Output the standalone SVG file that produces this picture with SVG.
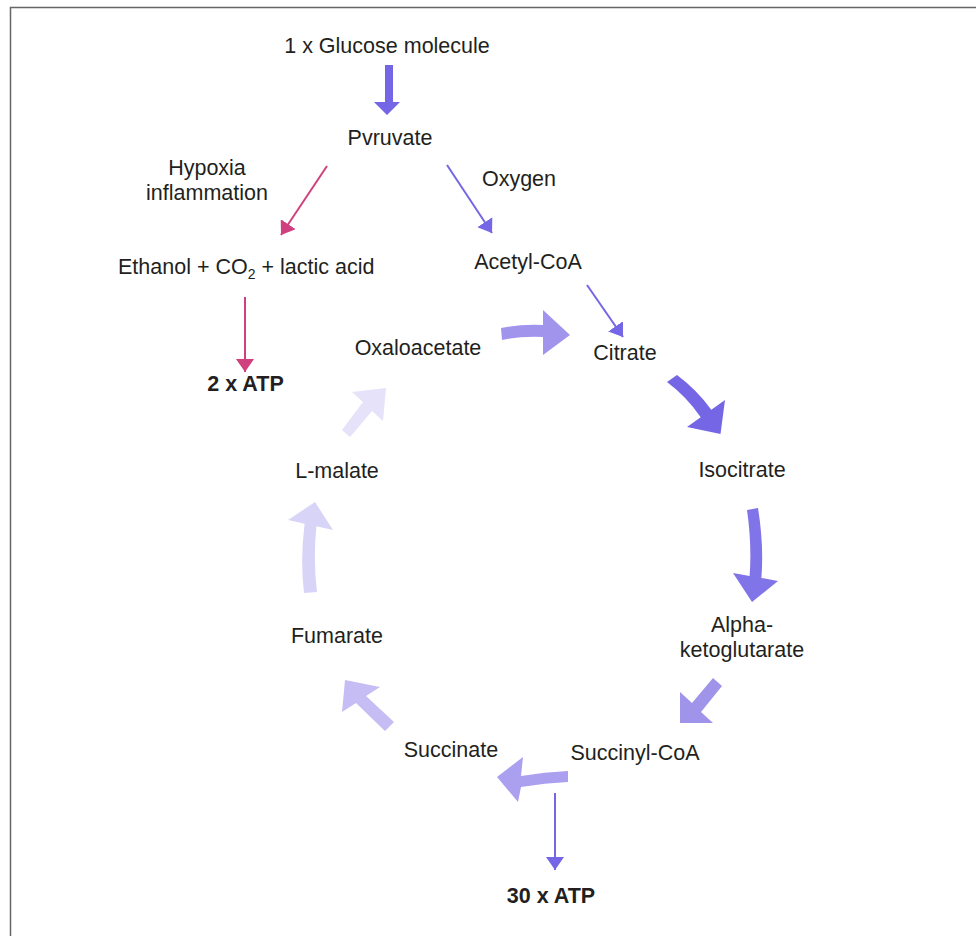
<svg xmlns="http://www.w3.org/2000/svg" width="976" height="936" viewBox="0 0 976 936">
<defs>
<style>
.t{font-family:"Liberation Sans",Arial,sans-serif;font-size:21.5px;fill:#231f20;text-anchor:middle}
.b{font-weight:bold}
.thin{fill:none;stroke-width:2}
</style>
<marker id="hb" viewBox="0 0 13 18" refX="13" refY="9" markerWidth="13" markerHeight="18" markerUnits="userSpaceOnUse" orient="auto"><path d="M0,0 L13,9 L0,18 Z" fill="#7466e4"/></marker>
<marker id="hp" viewBox="0 0 13 18" refX="13" refY="9" markerWidth="13" markerHeight="18" markerUnits="userSpaceOnUse" orient="auto"><path d="M0,0 L13,9 L0,18 Z" fill="#d0407f"/></marker>
</defs>
<rect width="976" height="936" fill="#fff"/>
<path d="M10.5,936 V7.5 H976" fill="none" stroke="#666" stroke-width="1.5"/>

<g id="connectors">
<path id="glucose-pyruvate" d="M385,65 H393 V102 H400 L387,115 L374,102 H385 Z" fill="#7466e4"/>
<line x1="327" y1="166" x2="281" y2="235" class="thin" stroke="#d0407f" marker-end="url(#hp)"/>
<line x1="245" y1="297" x2="245" y2="372" class="thin" stroke="#d0407f" marker-end="url(#hp)"/>
<line x1="447" y1="165" x2="492" y2="233" class="thin" stroke="#7466e4" marker-end="url(#hb)"/>
<line x1="587" y1="285" x2="623" y2="337" class="thin" stroke="#7466e4" marker-end="url(#hb)"/>
<line x1="555" y1="793" x2="555" y2="870" class="thin" stroke="#7466e4" marker-end="url(#hb)"/>
<path id="oxalo-citrate" d="M501,328 Q520,324 543,325 L543,310 L570,335 L543,355 L543,337 Q520,336 502,340 Z" fill="#a194ec"/>
<path id="citrate-isocitrate" d="M667,382 L677,375 Q697,390 711.3,409.7 L725,400 L720.5,434 L687,427 L700.7,417.3 Q687,397 667,382 Z" fill="#7466e4"/>
<path id="isocitrate-alpha" d="M747,510 L758,508 Q764,545 761.4,578 L778,581 L752,602 L733,573 L749.6,576 Q752,545 747,510 Z" fill="#8174e8"/>
<path id="alpha-succinyl" d="M713,678 L722,686 L701,712 L713,723 L680,723 L680,692 L692,703 Z" fill="#a093ea"/>
<path id="succinyl-succinate" d="M568,771 L568,782 Q545,783 521,787 L518,802 L497,777 L523,757 L521,776 Q545,772 568,771 Z" fill="#ab9ff0"/>
<path id="succinate-fumarate" d="M385,731 L394,722 L366,696 L380,687 L345,680 L342,712 L356,703 Z" fill="#c5bdf4"/>
<path id="fumarate-malate" d="M304,593 L317,592 Q313,560 316.4,526.3 L333,530 L315,502 L288,520 L304.6,523.7 Q300,560 304,593 Z" fill="#d8d4f7"/>
<path id="malate-oxalo" d="M342,430 L363,402 L352,392 L386,388 L383,421 L372,411 L350,437 Z" fill="#e5e2fa"/>
</g>

<g id="glucose"><text class="t" x="387" y="53">1 x Glucose molecule</text></g>
<g id="pyruvate"><text class="t" x="390" y="145">Pvruvate</text></g>
<g id="hypoxia"><text class="t" x="207" y="175">Hypoxia</text><text class="t" x="207" y="200">inflammation</text></g>
<g id="oxygen"><text class="t" x="519" y="186">Oxygen</text></g>
<g id="ethanol"><text class="t" x="118" y="274" style="text-anchor:start">Ethanol + CO<tspan font-size="14" dy="5">2</tspan><tspan dy="-5"> + lactic acid</tspan></text></g>
<g id="acetyl"><text class="t" x="528" y="269">Acetyl-CoA</text></g>
<g id="atp2"><text class="t b" x="245.5" y="391">2 x ATP</text></g>
<g id="oxaloacetate"><text class="t" x="418" y="355">Oxaloacetate</text></g>
<g id="citrate"><text class="t" x="625" y="360">Citrate</text></g>
<g id="isocitrate"><text class="t" x="742" y="477">Isocitrate</text></g>
<g id="lmalate"><text class="t" x="337" y="478">L-malate</text></g>
<g id="alpha"><text class="t" x="742" y="632">Alpha-</text><text class="t" x="742" y="657">ketoglutarate</text></g>
<g id="fumarate"><text class="t" x="337" y="643">Fumarate</text></g>
<g id="succinate"><text class="t" x="451" y="757">Succinate</text></g>
<g id="succinyl"><text class="t" x="635" y="760">Succinyl-CoA</text></g>
<g id="atp30"><text class="t b" x="551" y="903">30 x ATP</text></g>
</svg>
